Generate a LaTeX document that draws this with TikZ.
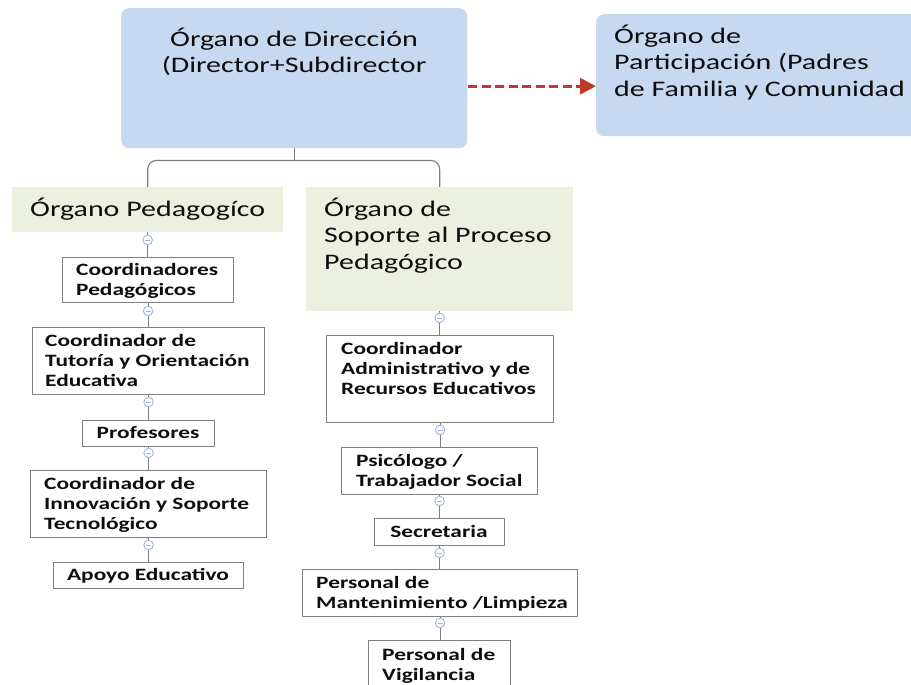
\documentclass[tikz,border=0pt]{standalone}
\usepackage{fontspec}
\setmainfont{Carlito}[FakeStretch=1.35]
\usetikzlibrary{arrows.meta,calc}
\definecolor{bluefill}{HTML}{C6D9F1}
\definecolor{greenfill}{HTML}{EBF0DF}
\definecolor{boxline}{HTML}{808080}
\definecolor{connline}{HTML}{7F7F7F}
\definecolor{circline}{HTML}{9FB6DD}
\definecolor{arrred}{HTML}{C0392B}
\definecolor{txt}{HTML}{0D0D0D}
\tikzset{
  bluebox/.style={fill=bluefill, draw=none, rounded corners=8pt, anchor=north west, inner sep=0pt},
  greenbox/.style={fill=greenfill, draw=none, anchor=north west, inner sep=0pt},
  whitebox/.style={fill=white, draw=boxline, line width=1.2pt, anchor=north west, inner sep=0pt},
  bigtxt/.style={font=\fontsize{22.2}{26.5}\selectfont, text=txt, inner sep=0pt, align=left, anchor=base west},
  smalltxt/.style={font=\fontsize{17.3}{20}\selectfont\bfseries, text=txt, inner sep=0pt, align=left, anchor=base west},
  conn/.style={draw=connline, line width=1.2pt},
  toggle/.style={circle, draw=circline, fill=white, line width=0.9pt, minimum size=9.5pt, inner sep=0pt,
    path picture={\draw[circline, line width=0.9pt] ([xshift=-2.4pt]path picture bounding box.center) -- ([xshift=2.4pt]path picture bounding box.center);}},
  dasharrow/.style={draw=arrred, line width=3.2pt, dash pattern=on 9pt off 4.5pt, -{Triangle[length=16pt,width=16pt,fill=arrred]}}
}
\begin{document}
\begin{tikzpicture}[x=1pt,y=-1pt]
\useasboundingbox (0,0) rectangle (911,685);
% top boxes
\node[bluebox, minimum width=346pt, minimum height=140pt] (dir) at (121,8) {};
\node[bigtxt, align=center, anchor=base] (dirt) at (294,73) {Órgano de Dirección\\(Director+Subdirector};
\node[bluebox, minimum width=340pt, minimum height=122pt] (par) at (596,14) {};
\node[bigtxt] (part) at (614,96) {Órgano de\\Participación (Padres\\de Familia y Comunidad};
% second level
\node[greenbox, minimum width=271pt, minimum height=45pt] (ped) at (12,187) {};
\node[bigtxt] (pedt) at (30,216) {Órgano Pedagogíco};
\node[greenbox, minimum width=267pt, minimum height=124pt] (sop) at (306,187) {};
\node[bigtxt] (sopt) at (324,269) {Órgano de\\Soporte al Proceso\\Pedagógico};
% left column
\node[whitebox, minimum width=171pt, minimum height=45pt] (cp) at (62,257) {};
\node[smalltxt] (cpt) at (76,295) {Coordinadores\\Pedagógicos};
\node[whitebox, minimum width=232pt, minimum height=67pt] (ct) at (32,327) {};
\node[smalltxt] (ctt) at (45,386) {Coordinador de\\Tutoría y Orientación\\Educativa};
\node[whitebox, minimum width=132pt, minimum height=26pt] (prof) at (82,420) {};
\node[smalltxt, anchor=base] (proft) at (148,438) {Profesores};
\node[whitebox, minimum width=236pt, minimum height=67pt] (ci) at (30,470) {};
\node[smalltxt] (cit) at (44,529) {Coordinador de\\Innovación y Soporte\\Tecnológico};
\node[whitebox, minimum width=190pt, minimum height=26pt] (apo) at (53,562) {};
\node[smalltxt, anchor=base] (apot) at (148,580) {Apoyo Educativo};
% right column
\node[whitebox, minimum width=227pt, minimum height=87pt] (ca) at (326,335) {};
\node[smalltxt] (cat) at (341,394) {Coordinador\\Administrativo y de\\Recursos Educativos};
\node[whitebox, minimum width=196pt, minimum height=47pt] (psi) at (341,447) {};
\node[smalltxt] (psit) at (356,486) {Psicólogo /\\Trabajador Social};
\node[whitebox, minimum width=130pt, minimum height=27pt] (sec) at (374,518) {};
\node[smalltxt, anchor=base] (sect) at (439,537) {Secretaria};
\node[whitebox, minimum width=275pt, minimum height=47pt] (pm) at (302,569) {};
\node[smalltxt] (pmt) at (316,608) {Personal de\\Mantenimiento /Limpieza};
\node[whitebox, minimum width=142pt, minimum height=60pt] (pv) at (368,640) {};
\node[smalltxt] (pvt) at (382,680) {Personal de\\Vigilancia};
% top connector
\coordinate (j) at ($(dir.south)+(0,12)$);
\draw[conn] (dir.south) -- (j);
\draw[conn, rounded corners=9pt] (ped.north) |- (j) -| (sop.north);
% dashed arrow
\coordinate (a1) at ($(dir.east)+(1,8)$);
\draw[dasharrow] (a1) -- (a1 -| par.west);
% vertical connectors
\foreach \a/\b in {ped/cp, cp/ct, ct/prof, prof/ci, ci/apo, sop/ca, ca/psi, psi/sec, sec/pm, pm/pv}{
  \draw[conn] (\a.south) -- (\a.south |- \b.north);
}
% toggles
\node[toggle] (t1) at (ped.south |- 0,240) {};
\node[toggle] (t2) at (cp.south |- 0,311) {};
\node[toggle] (t3) at (ct.south |- 0,402) {};
\node[toggle] (t4) at (prof.south |- 0,453) {};
\node[toggle] (t5) at (ci.south |- 0,545) {};
\node[toggle] (t6) at (sop.south |- 0,318) {};
\node[toggle] (t7) at (ca.south |- 0,430) {};
\node[toggle] (t8) at (psi.south |- 0,501) {};
\node[toggle] (t9) at (sec.south |- 0,553) {};
\node[toggle] (t10) at (pm.south |- 0,623) {};
\end{tikzpicture}
\end{document}
